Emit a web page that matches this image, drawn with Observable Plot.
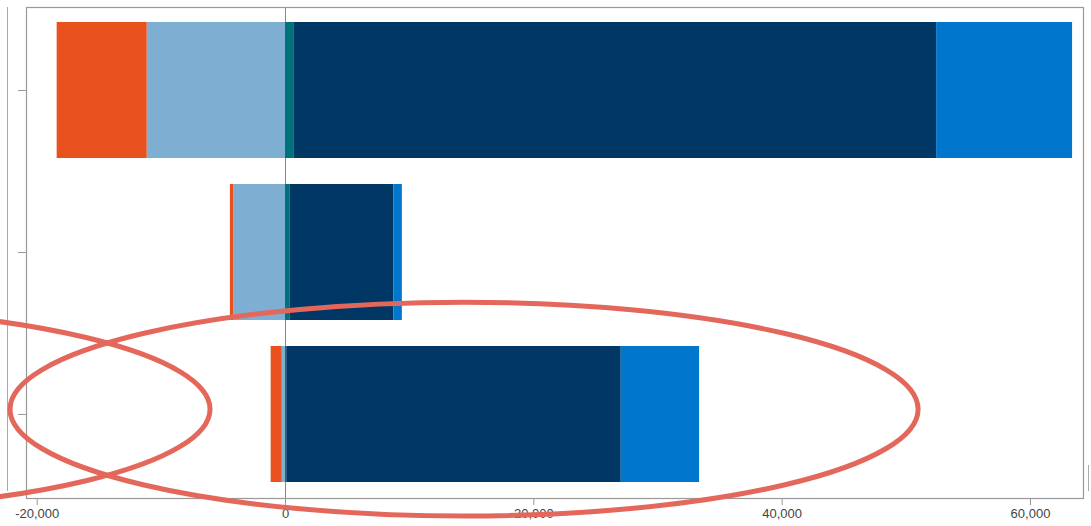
<!DOCTYPE html>
<html>
<head>
<meta charset="utf-8">
<script src="https://cdn.jsdelivr.net/npm/d3@7"></script>
<script src="https://cdn.jsdelivr.net/npm/@observablehq/plot@0.6"></script>
<style>
  html, body { margin: 0; padding: 0; background: #fff; }
  #wrap { position: relative; width: 1091px; height: 526px; overflow: hidden; }
  .edge { position: absolute; background: #aaa; width: 1px; }
</style>
</head>
<body>
<div id="wrap">
  <div class="edge" style="left:7px; top:7px; height:484px;"></div>
  <div class="edge" style="left:1088px; top:465px; height:26px;"></div>
</div>
<script>
// ---- data ----
const categories = ["Category A", "Category B", "Category C"];
const seriesNames = ["Series 1", "Series 2", "Series 3", "Series 4", "Series 5"];
const seriesColors = ["#7FAED3", "#E8501D", "#00727A", "#003764", "#0076CC"];
const series1 = [-11140, -4170, -265];   // light blue (negative, next to zero)
const series2 = [-7250, -270, -890];     // orange (negative, outer)
const series3 = [670, 350, 100];         // teal
const series4 = [51770, 8380, 26940];    // navy
const series5 = [10950, 680, 6310];      // blue
const xTicks = [-20000, 0, 20000, 40000, 60000];
const xDomain = [-20860, 64270];

// annotation ellipses (hand-drawn highlight), x in data units, y relative to band step
const annoCategory = ["Category C", "Category C"];
const annoCx = [14420, -40110];
const annoRx = [36570, 34070];
const annoDy = [-0.03, -0.03];
const annoRy = [0.66, 0.625];

const seriesValues = [series1, series2, series3, series4, series5];
const rows = [];
seriesNames.forEach((s, si) => {
  categories.forEach((c, ci) => rows.push({category: c, series: s, value: seriesValues[si][ci]}));
});

const plot = Plot.plot({
  width: 1091,
  height: 526,
  marginLeft: 26,
  marginRight: 8,
  marginTop: 7,
  marginBottom: 28,
  style: {fontFamily: "'Liberation Sans', Arial, sans-serif", fontSize: "13px", color: "#444", background: "transparent"},
  x: {domain: xDomain, ticks: xTicks, tickFormat: d => d.toLocaleString("en-US"), tickSize: 7, tickPadding: 3, label: null},
  y: {domain: categories, paddingInner: 0.16, paddingOuter: 0.09, tickSize: 8, tickFormat: () => "", label: null},
  color: {domain: seriesNames, range: seriesColors},
  marks: [
    Plot.ruleX([0], {stroke: "#888", strokeWidth: 1}),
    Plot.barX(rows, {x: "value", y: "category", fill: "series", order: seriesNames}),
    Plot.frame({stroke: "#999", strokeWidth: 1.2})
  ]
});

const svg = d3.select(plot);
svg.selectAll("[aria-label='x-axis tick'] path, [aria-label='y-axis tick'] path").attr("stroke", "#999");
svg.selectAll("[aria-label='x-axis tick'], [aria-label='y-axis tick']").attr("stroke", "#999");

const xs = plot.scale("x");
const ys = plot.scale("y");
const px = v => xs.apply(v);
annoCx.forEach((cx, i) => {
  const cy = ys.apply(annoCategory[i]) + ys.bandwidth / 2 + annoDy[i] * ys.step;
  svg.append("ellipse")
    .attr("cx", px(cx))
    .attr("cy", cy)
    .attr("rx", px(cx + annoRx[i]) - px(cx))
    .attr("ry", annoRy[i] * ys.step)
    .attr("fill", "none")
    .attr("stroke", "#E4675B")
    .attr("stroke-width", 5);
});

document.getElementById("wrap").appendChild(plot);
plot.style.position = "absolute";
plot.style.left = "0";
plot.style.top = "0";
</script>
</body>
</html>
